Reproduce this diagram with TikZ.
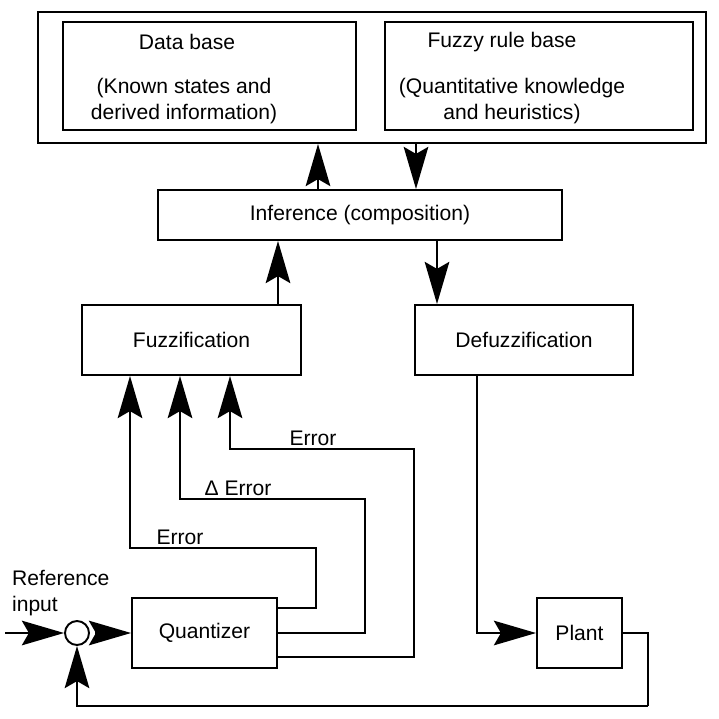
\documentclass[tikz,border=0pt]{standalone}
\usepackage{fontspec}
\setmainfont{Liberation Sans}
\usetikzlibrary{arrows.meta}

\begin{document}
\begin{tikzpicture}[x=0.02cm, y=-0.02cm,
		every node/.style={font=\fontsize{12}{14.4}\selectfont},
		blk/.style={draw, line width=1.1pt, inner sep=0pt},
		lbl/.style={inner sep=1pt},
		arr/.style={line width=1.1pt, -{Stealth[length=24pt, width=14pt, inset=4pt]}},
		wire/.style={line width=1.1pt}]
			%%%%% START %%%%%
			\useasboundingbox (0, 0) rectangle (719, 719);
			
			% knowledge base
			\node[blk, minimum width=13.36cm, minimum height=2.62cm] (kbase) at (372, 77.5) {};
			\node[blk, minimum width=5.86cm, minimum height=2.16cm] (dbase) at (209.5, 76) {};
			\node[blk, minimum width=6.16cm, minimum height=2.16cm] (rbase) at (539, 76) {};
			\node[lbl] (dbtitle) at (187, 42) {Data base};
			\node[lbl, align=center] (dbtext) at (184, 101) {(Known states and\\derived information)};
			\node[lbl] (rbtitle) at (502, 42) {Fuzzy rule base};
			\node[lbl, align=center] (rbtext) at (512, 101) {(Quantitative knowledge\\and heuristics)};
			
			% inference, fuzzification, defuzzification
			\node[blk, minimum width=8.08cm, minimum height=1cm] (infer) at (360, 215) {Inference (composition)};
			\node[blk, minimum width=4.38cm, minimum height=1.4cm] (fuzz) at (191.5, 340) {Fuzzification};
			\node[blk, minimum width=4.36cm, minimum height=1.4cm] (defuzz) at (524, 340) {Defuzzification};
			
			% loop
			\node[blk, minimum width=2.9cm, minimum height=1.4cm] (quant) at (204.5, 633) {Quantizer};
			\node[blk, minimum width=1.7cm, minimum height=1.4cm] (plant) at (579.5, 633) {Plant};
			\node[draw, circle, line width=1.1pt, minimum size=0.48cm, inner sep=0pt] (sum) at (77, 633) {};
			\node[lbl, align=left, anchor=west] (refin) at (10, 593) {Reference\\input};
			\coordinate (in) at (5, 633);
			
			\draw[arr] (infer.north -| 318,0) -- (kbase.south -| 318,0);
			\draw[arr] (kbase.south -| 416,0) -- (infer.north -| 416,0);
			\draw[arr] (fuzz.north -| 278,0) -- (infer.south -| 278,0);
			\draw[arr] (infer.south -| 437,0) -- (defuzz.north -| 437,0);
			
			\draw[arr] (quant.east |- 0,608) -| (316, 548) -| (fuzz.south -| 130,0);
			\draw[arr] (quant.east |- 0,633) -| (365, 499) -| (fuzz.south -| 180,0);
			\draw[arr] (quant.east |- 0,657) -| (414, 449) -| (fuzz.south -| 230,0);
			\node[lbl, anchor=south] (err1) at (180, 547) {Error};
			\node[lbl, anchor=south] (derr) at (238, 498) {Δ Error};
			\node[lbl, anchor=south] (err2) at (313, 448) {Error};
			
			\draw[arr] (defuzz.south -| 477,0) |- (plant.west);
			\draw[wire] (plant.east) -- (648, 633) -- (648, 706);
			\draw[arr] (648, 706) -| (sum.south);
			\draw[arr] (in) -- (sum.west);
			\draw[arr, shorten <=3pt] (sum.east) -- (quant.west);
			%%%%% END %%%%%
		\end{tikzpicture}
\end{document}
